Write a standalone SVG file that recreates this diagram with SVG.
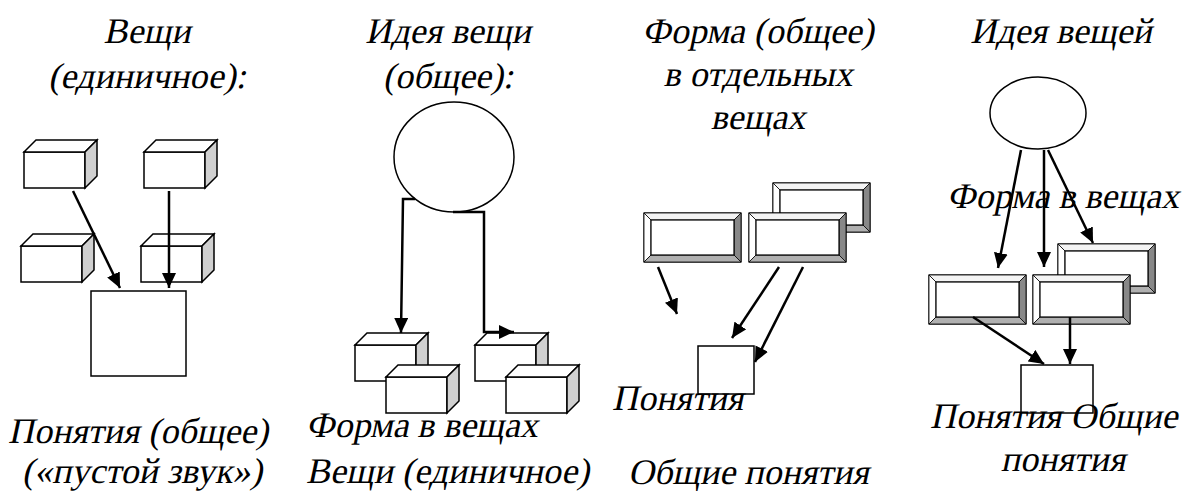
<svg xmlns="http://www.w3.org/2000/svg" width="1204" height="491" viewBox="0 0 1204 491">
<defs>
<style>
.ln{fill:none;stroke:#000;stroke-width:2.5}
.box{fill:#fff;stroke:#000;stroke-width:1.5}
.sh{stroke:#000;stroke-width:1.5}
</style>
<marker id="ah" markerUnits="userSpaceOnUse" markerWidth="16" markerHeight="14" refX="15" refY="7" orient="auto">
<path d="M0,0 L15,7 L0,14 z" fill="#000"/>
</marker>
<g id="cube">
<rect x="0" y="0" width="61" height="36" class="box"/>
<polygon points="0,0 12,-12 73,-12 61,0" class="sh" fill="#fff"/>
<polygon points="61,0 73,-12 73,24 61,36" class="sh" fill="#d0d0d0"/>
</g>
<g id="bev">
<rect x="0" y="0" width="97" height="49" fill="#fff" stroke="#000" stroke-width="1.2"/>
<polygon points="0,0 97,0 90,7 7,7" fill="#f4f4f4" stroke="#000" stroke-width="0.8"/>
<polygon points="0,0 7,7 7,42 0,49" fill="#fff" stroke="#000" stroke-width="0.8"/>
<polygon points="97,0 97,49 90,42 90,7" fill="#888" stroke="#000" stroke-width="0.8"/>
<polygon points="0,49 97,49 90,42 7,42" fill="#b0b0b0" stroke="#000" stroke-width="0.8"/>
<rect x="7" y="7" width="83" height="35" fill="#fff" stroke="#000" stroke-width="1.2"/>
</g>
</defs>
<rect width="1204" height="491" fill="#fff"/>

<g id="titles" font-family="'Liberation Serif', serif" font-size="36" text-anchor="middle">
<text transform="translate(147,43) skewX(-12)">Вещи</text>
<text transform="translate(147,88) skewX(-12)">(единичное):</text>
<text transform="translate(448,43) skewX(-12)">Идея вещи</text>
<text transform="translate(448,88) skewX(-12)">(общее):</text>
<text transform="translate(758,43) skewX(-12)">Форма (общее)</text>
<text transform="translate(758,86) skewX(-12)">в отдельных</text>
<text transform="translate(758,129) skewX(-12)">вещах</text>
<text transform="translate(1061,43) skewX(-12)">Идея вещей</text>
</g>

<g id="panel1">
<g id="cubeA"><use href="#cube" x="24" y="152"/></g>
<g id="cubeB"><use href="#cube" x="144" y="152"/></g>
<g id="cubeC"><use href="#cube" x="21" y="246"/></g>
<g id="cubeD"><use href="#cube" x="141" y="246"/></g>
<g id="concept1"><rect x="91" y="291" width="95" height="85" class="box"/></g>
</g>

<g id="panel2">
<g id="idea2"><ellipse cx="454" cy="157" rx="60" ry="55" class="box"/></g>
<g id="cubeE"><use href="#cube" x="355" y="345"/></g>
<g id="cubeF"><use href="#cube" x="386" y="377"/></g>
<g id="cubeG"><use href="#cube" x="475" y="345"/></g>
<g id="cubeH"><use href="#cube" x="506" y="377"/></g>
</g>

<g id="panel3">
<g id="bev3c"><use href="#bev" x="773" y="183"/></g>
<g id="bev3a"><use href="#bev" x="644" y="213"/></g>
<g id="bev3b"><use href="#bev" x="749" y="213"/></g>
<g id="concept3"><rect x="698" y="346" width="56" height="48" fill="none" stroke="#000" stroke-width="1.5"/></g>
</g>

<g id="panel4">
<g id="idea4"><ellipse cx="1038" cy="113" rx="48" ry="36" class="box"/></g>
<g id="bev4c"><use href="#bev" x="1058" y="244"/></g>
<g id="bev4a"><use href="#bev" x="929" y="275"/></g>
<g id="bev4b"><use href="#bev" x="1033" y="275"/></g>
<g id="concept4"><rect x="1021" y="365" width="72" height="48" fill="none" stroke="#000" stroke-width="1.5"/></g>
</g>

<g id="labels" font-family="'Liberation Serif', serif" font-size="36">
<text transform="translate(8,443) skewX(-12)">Понятия (общее)</text>
<text transform="translate(22,483) skewX(-12)">(«пустой звук»)</text>
<text transform="translate(306,437) skewX(-12)">Форма в вещах</text>
<text transform="translate(306,483) skewX(-12)">Вещи (единичное)</text>
<text transform="translate(612,410) skewX(-12)">Понятия</text>
<text transform="translate(628,484) skewX(-12)">Общие понятия</text>
<text transform="translate(1063,208) skewX(-12)" text-anchor="middle">Форма в вещах</text>
<text transform="translate(930,428) skewX(-12)">Понятия Общие</text>
<text transform="translate(1063,471) skewX(-12)" text-anchor="middle">понятия</text>
</g>

<g id="connectors">
<line x1="73" y1="191" x2="120" y2="288" class="ln" marker-end="url(#ah)"/>
<line x1="169" y1="191" x2="169" y2="288" class="ln" marker-end="url(#ah)"/>
<polyline points="415,199 403,199 401,333" class="ln" marker-end="url(#ah)"/>
<polyline points="453,212 484,212 484,332 514,332" class="ln" marker-end="url(#ah)"/>
<line x1="658" y1="267" x2="677" y2="314" class="ln" marker-end="url(#ah)"/>
<line x1="779" y1="267" x2="732" y2="338" class="ln" marker-end="url(#ah)"/>
<line x1="803" y1="267" x2="755" y2="362" class="ln" marker-end="url(#ah)"/>
<line x1="1021" y1="150" x2="998" y2="268" class="ln" marker-end="url(#ah)"/>
<line x1="1044" y1="150" x2="1044" y2="267" class="ln" marker-end="url(#ah)"/>
<line x1="1048" y1="150" x2="1093" y2="243" class="ln" marker-end="url(#ah)"/>
<line x1="973" y1="317" x2="1044" y2="364" class="ln" marker-end="url(#ah)"/>
<line x1="1070" y1="317" x2="1070" y2="364" class="ln" marker-end="url(#ah)"/>
</g>
</svg>
